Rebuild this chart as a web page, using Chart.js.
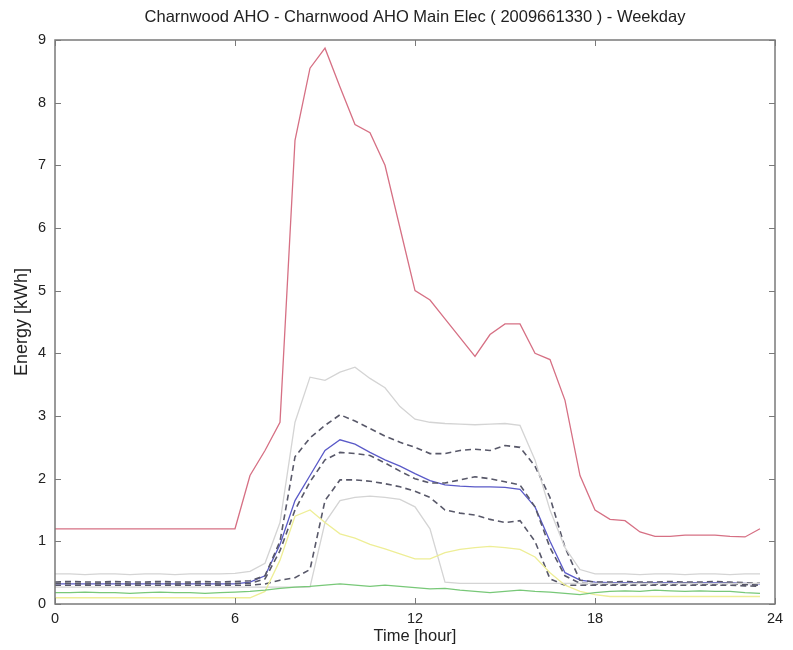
<!DOCTYPE html>
<html>
<head>
<meta charset="utf-8">
<script src="https://cdn.jsdelivr.net/npm/chart.js@4"></script>
<style>
  html, body { margin: 0; padding: 0; background: #fff; }
  #wrap { width: 793px; height: 650px; }
</style>
</head>
<body>
<div id="wrap"><canvas id="grafica" width="793" height="650"></canvas></div>
<script>
// half-hourly profile, weekday
const hours = [0, 0.5, 1, 1.5, 2, 2.5, 3, 3.5, 4, 4.5, 5, 5.5, 6, 6.5, 7, 7.5, 8, 8.5, 9, 9.5, 10, 10.5, 11, 11.5,
  12, 12.5, 13, 13.5, 14, 14.5, 15, 15.5, 16, 16.5, 17, 17.5, 18, 18.5, 19, 19.5, 20, 20.5, 21, 21.5, 22, 22.5, 23, 23.5];
const xTicks = [0, 6, 12, 18, 24];
const yTicks = [0, 1, 2, 3, 4, 5, 6, 7, 8, 9];

const maxDay = [1.2, 1.2, 1.2, 1.2, 1.2, 1.2, 1.2, 1.2, 1.2, 1.2, 1.2, 1.2, 1.2,
  2.05, 2.45, 2.9, 7.4, 8.55, 8.87, 8.25, 7.65, 7.52, 7.0, 6.0, 5.0, 4.85, 4.55, 4.25, 3.95, 4.3, 4.47, 4.47,
  4.0, 3.9, 3.25, 2.05, 1.5, 1.35, 1.33, 1.15, 1.08, 1.08, 1.1, 1.1, 1.1, 1.08, 1.07, 1.2];
const upperBand = [0.48, 0.48, 0.47, 0.48, 0.48, 0.47, 0.48, 0.48, 0.47, 0.48, 0.48, 0.48, 0.49,
  0.52, 0.65, 1.3, 2.9, 3.62, 3.57, 3.7, 3.78, 3.6, 3.45, 3.15, 2.95, 2.9, 2.88, 2.87, 2.86, 2.87, 2.88, 2.85,
  2.3, 1.5, 0.9, 0.55, 0.48, 0.48, 0.48, 0.47, 0.48, 0.48, 0.47, 0.48, 0.48, 0.47, 0.48, 0.48];
const upperQuart = [0.35, 0.36, 0.35, 0.35, 0.36, 0.35, 0.35, 0.36, 0.35, 0.35, 0.36, 0.35, 0.36,
  0.37, 0.45, 1.0, 2.35, 2.65, 2.85, 3.02, 2.92, 2.8, 2.68, 2.58, 2.5, 2.4, 2.4, 2.45, 2.47, 2.45, 2.53, 2.5,
  2.2, 1.7, 0.9, 0.38, 0.35, 0.35, 0.36, 0.35, 0.35, 0.36, 0.35, 0.35, 0.36, 0.35, 0.34, 0.33];
const meanDay = [0.32, 0.32, 0.32, 0.32, 0.32, 0.32, 0.32, 0.32, 0.32, 0.32, 0.32, 0.32, 0.32,
  0.35, 0.45, 0.95, 1.65, 2.05, 2.45, 2.62, 2.55, 2.42, 2.3, 2.2, 2.08, 1.97, 1.9, 1.88, 1.87, 1.87, 1.86, 1.83,
  1.55, 1.0, 0.5, 0.38, 0.35, 0.34, 0.34, 0.34, 0.34, 0.34, 0.34, 0.34, 0.34, 0.34, 0.33, 0.32];
const median = [0.33, 0.33, 0.32, 0.33, 0.33, 0.32, 0.33, 0.33, 0.32, 0.33, 0.33, 0.32, 0.33,
  0.33, 0.4, 0.85, 1.5, 1.95, 2.3, 2.42, 2.4, 2.37, 2.25, 2.12, 2.0, 1.93, 1.93, 1.98, 2.03, 2.0, 1.95, 1.9,
  1.55, 0.9, 0.45, 0.33, 0.32, 0.32, 0.32, 0.33, 0.32, 0.32, 0.33, 0.32, 0.32, 0.33, 0.31, 0.3];
const lowerQuart = [0.3, 0.3, 0.3, 0.3, 0.3, 0.3, 0.3, 0.3, 0.3, 0.3, 0.3, 0.3, 0.3,
  0.3, 0.32, 0.38, 0.42, 0.55, 1.65, 1.98, 1.98, 1.96, 1.92, 1.87, 1.8, 1.7, 1.5, 1.45, 1.42, 1.35, 1.3, 1.33,
  1.0, 0.4, 0.3, 0.3, 0.3, 0.3, 0.3, 0.3, 0.3, 0.3, 0.3, 0.3, 0.3, 0.3, 0.29, 0.28];
const lowerBand = [0.27, 0.27, 0.27, 0.27, 0.27, 0.27, 0.27, 0.27, 0.27, 0.27, 0.27, 0.27, 0.27,
  0.27, 0.27, 0.27, 0.27, 0.27, 1.3, 1.65, 1.7, 1.72, 1.7, 1.67, 1.55, 1.2, 0.35, 0.33, 0.33, 0.33, 0.33, 0.33,
  0.33, 0.33, 0.33, 0.33, 0.33, 0.33, 0.33, 0.33, 0.33, 0.33, 0.33, 0.33, 0.33, 0.33, 0.33, 0.33];
const minDay = [0.1, 0.1, 0.1, 0.1, 0.1, 0.1, 0.1, 0.1, 0.1, 0.1, 0.1, 0.1, 0.1,
  0.1, 0.2, 0.7, 1.4, 1.5, 1.3, 1.12, 1.05, 0.95, 0.88, 0.8, 0.72, 0.72, 0.82, 0.87, 0.9, 0.92, 0.9, 0.87,
  0.75, 0.5, 0.3, 0.2, 0.15, 0.12, 0.12, 0.12, 0.12, 0.12, 0.12, 0.12, 0.12, 0.12, 0.12, 0.12];
const baseLoad = [0.18, 0.18, 0.19, 0.18, 0.18, 0.17, 0.18, 0.19, 0.18, 0.18, 0.17, 0.18, 0.19,
  0.2, 0.22, 0.25, 0.27, 0.28, 0.3, 0.32, 0.3, 0.28, 0.3, 0.28, 0.26, 0.24, 0.25, 0.22, 0.2, 0.18, 0.2, 0.22,
  0.2, 0.19, 0.17, 0.15, 0.18, 0.2, 0.21, 0.2, 0.22, 0.21, 0.2, 0.21, 0.2, 0.2, 0.18, 0.17];

const FONT = '"Liberation Sans", Arial, Helvetica, sans-serif';
const $grafica = document.querySelector('#grafica');

const serie = (valores, color, dash) => ({
  data: hours.map((h, i) => ({ x: h, y: valores[i] })),
  borderColor: color,
  borderWidth: dash ? 1.6 : 1.3,
  borderDash: dash ? [6, 4] : [],
  pointRadius: 0,
  tension: 0,
  fill: false,
});

// matlab style box with inner ticks
const cajaEjes = {
  id: 'cajaEjes',
  afterDraw(chart) {
    const { ctx, chartArea: a, scales } = chart;
    ctx.save();
    ctx.strokeStyle = '#7a7a7a';
    ctx.lineWidth = 1.5;
    ctx.strokeRect(a.left, a.top, a.right - a.left, a.bottom - a.top);
    ctx.lineWidth = 1;
    ctx.beginPath();
    xTicks.forEach((t) => {
      const px = Math.round(scales.x.getPixelForValue(t)) + 0.5;
      ctx.moveTo(px, a.bottom); ctx.lineTo(px, a.bottom - 6);
      ctx.moveTo(px, a.top); ctx.lineTo(px, a.top + 6);
    });
    yTicks.forEach((t) => {
      const py = Math.round(scales.y.getPixelForValue(t)) + 0.5;
      ctx.moveTo(a.left, py); ctx.lineTo(a.left + 6, py);
      ctx.moveTo(a.right, py); ctx.lineTo(a.right - 6, py);
    });
    ctx.stroke();
    ctx.restore();
  },
};

new Chart($grafica, {
  type: 'line',
  data: {
    datasets: [
      serie(baseLoad, 'rgb(120,200,120)', false),
      serie(minDay, 'rgb(238,238,150)', false),
      serie(lowerBand, 'rgb(212,212,212)', false),
      serie(upperBand, 'rgb(212,212,212)', false),
      serie(lowerQuart, 'rgb(88,88,105)', true),
      serie(median, 'rgb(88,88,105)', true),
      serie(upperQuart, 'rgb(88,88,105)', true),
      serie(meanDay, 'rgb(90,90,200)', false),
      serie(maxDay, 'rgb(214,112,132)', false),
    ],
  },
  options: {
    responsive: false,
    animation: false,
    layout: { padding: { left: 0, right: 18, top: 0, bottom: 0 } },
    plugins: {
      legend: { display: false },
      tooltip: { enabled: false },
      title: {
        display: true,
        fullSize: false,
        text: 'Charnwood AHO - Charnwood AHO Main Elec ( 2009661330 ) - Weekday',
        color: '#222',
        font: { family: FONT, size: 16.5, weight: 'normal', lineHeight: 1.2 },
        padding: { top: 8, bottom: 12.2 },
      },
    },
    scales: {
      x: {
        type: 'linear',
        min: 0,
        max: 24,
        afterFit: (s) => { s.height = 46; },
        afterBuildTicks: (s) => { s.ticks = xTicks.map((v) => ({ value: v })); },
        grid: { display: false, drawTicks: false },
        border: { display: false },
        ticks: { color: '#222', padding: 6, font: { family: FONT, size: 14.5 }, maxRotation: 0 },
        title: { display: true, text: 'Time [hour]', color: '#222', font: { family: FONT, size: 16.5 }, padding: { top: 0, bottom: 4 } },
      },
      y: {
        min: 0,
        max: 9,
        afterFit: (s) => { s.width = 55; },
        afterBuildTicks: (s) => { s.ticks = yTicks.map((v) => ({ value: v })); },
        grid: { display: false, drawTicks: false },
        border: { display: false },
        ticks: { color: '#222', padding: 9, font: { family: FONT, size: 14.5 } },
        title: { display: true, text: 'Energy [kWh]', color: '#222', font: { family: FONT, size: 18 }, padding: { top: 11, bottom: 0 } },
      },
    },
  },
  plugins: [cajaEjes],
});
</script>
</body>
</html>
